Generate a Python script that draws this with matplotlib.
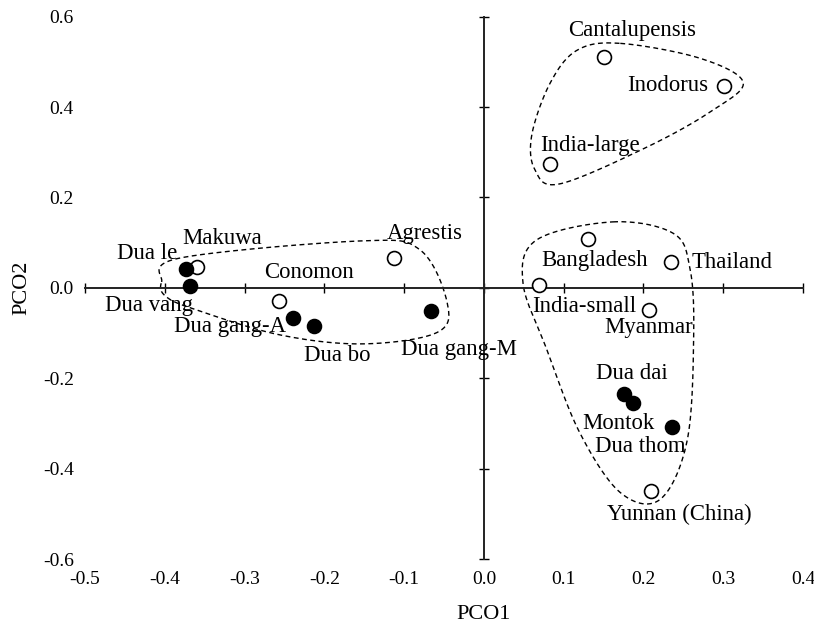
import numpy as np
import matplotlib
matplotlib.use("Agg")
import matplotlib.pyplot as plt

plt.rcParams['font.family'] = ['Liberation Serif', 'DejaVu Serif']
plt.rcParams['axes.unicode_minus'] = False

# accessions and their PCO scores
names = ['Cantalupensis', 'Inodorus', 'India-large', 'Makuwa', 'Dua le', 'Dua vang',
         'Conomon', 'Dua gang-A', 'Dua bo', 'Agrestis', 'Dua gang-M', 'Bangladesh',
         'Thailand', 'India-small', 'Myanmar', 'Dua dai', 'Montok', 'Dua thom',
         'Yunnan (China)']
pco1 = [0.150, 0.301, 0.083, -0.360, -0.374, -0.368, -0.257, -0.239, -0.213, -0.113,
        -0.066, 0.130, 0.234, 0.069, 0.207, 0.176, 0.187, 0.236, 0.210]
pco2 = [0.511, 0.446, 0.274, 0.046, 0.041, 0.004, -0.028, -0.066, -0.084, 0.067,
        -0.051, 0.108, 0.058, 0.007, -0.049, -0.235, -0.255, -0.307, -0.449]
filled = [False, False, False, False, True, True, False, True, True, False,
          True, False, False, False, False, True, True, True, False]

xticks = [-0.5, -0.4, -0.3, -0.2, -0.1, 0.0, 0.1, 0.2, 0.3, 0.4]
yticks = [-0.6, -0.4, -0.2, 0.0, 0.2, 0.4, 0.6]

# label offsets in pixels (layout only)
offsets = {
    'Cantalupensis': (29, 26), 'Inodorus': (-56, 1), 'India-large': (40, 19),
    'Makuwa': (25, 29), 'Dua le': (-38, 16), 'Dua vang': (-41, -19),
    'Conomon': (30, 28), 'Dua gang-A': (-63, -9), 'Dua bo': (23, -30),
    'Agrestis': (31, 24), 'Dua gang-M': (28, -39), 'Bangladesh': (7, -21),
    'Thailand': (61, -1), 'India-small': (45, -22), 'Myanmar': (0, -18),
    'Dua dai': (8, 21), 'Montok': (-15, -20), 'Dua thom': (-32, -20),
    'Yunnan (China)': (28, -24),
}

# outline shapes of the three groups (layout only)
hull_a = [(0.171, 0.541), (0.271, 0.508), (0.325, 0.455), (0.287, 0.393), (0.205, 0.312),
          (0.095, 0.230), (0.064, 0.261), (0.060, 0.338), (0.083, 0.453), (0.117, 0.526)]
hull_b = [(-0.404, 0.013), (-0.381, 0.066), (-0.152, 0.104), (-0.080, 0.084), (-0.046, -0.033),
          (-0.059, -0.099), (-0.152, -0.124), (-0.256, -0.104), (-0.360, -0.049), (-0.398, -0.020)]
hull_c = [(0.162, 0.146), (0.237, 0.121), (0.258, 0.046), (0.263, -0.100), (0.255, -0.336),
          (0.221, -0.468), (0.171, -0.453), (0.120, -0.320), (0.079, -0.137), (0.049, 0.011),
          (0.066, 0.106)]


def closed_spline(pts, n=30):
    p = np.array(pts)
    k = len(p)
    out = []
    for i in range(k):
        p0, p1, p2, p3 = p[i - 1], p[i], p[(i + 1) % k], p[(i + 2) % k]
        t = np.linspace(0, 1, n, endpoint=False)[:, None]
        seg = 0.5 * ((2 * p1) + (-p0 + p2) * t + (2 * p0 - 5 * p1 + 4 * p2 - p3) * t ** 2
                     + (-p0 + 3 * p1 - 3 * p2 + p3) * t ** 3)
        out.append(seg)
    out = np.vstack(out)
    return np.vstack([out, out[:1]])


fig = plt.figure(figsize=(8.14, 6.29), dpi=100)
ax = fig.add_axes([85 / 814, 1 - 559 / 629, 718 / 814, 542.3 / 629])
ax.set_xlim(-0.5, 0.4)
ax.set_ylim(-0.6, 0.6)

for s in ['top', 'right']:
    ax.spines[s].set_visible(False)
ax.spines['left'].set_position(('data', 0))
ax.spines['bottom'].set_position(('data', 0))
for s in ['left', 'bottom']:
    ax.spines[s].set_linewidth(1.4)
    ax.spines[s].set_color('#222222')
ax.set_xticks(xticks)
ax.set_yticks(yticks)
ax.tick_params(direction='inout', length=7, width=1.0, labelbottom=False, labelleft=False)

# tick labels sit on the frame edge, axis titles line up with zero
x0 = (0 - xticks[0]) / (xticks[-1] - xticks[0])
y0 = (0 - yticks[0]) / (yticks[-1] - yticks[0])

secx = ax.secondary_xaxis(0.0)
secx.set_xticks(xticks)
secx.set_xticklabels(['%.1f' % v for v in xticks])
secx.tick_params(length=0, pad=9, labelsize=14)
secx.spines['bottom'].set_visible(False)
secx.set_xlabel('PCO1', fontsize=16, labelpad=12, x=x0)

secy = ax.secondary_yaxis(0.0)
secy.set_yticks(yticks)
secy.set_yticklabels(['%.1f' % v for v in yticks])
secy.tick_params(length=0, pad=8, labelsize=14)
secy.spines['left'].set_visible(False)
secy.set_ylabel('PCO2', fontsize=16, labelpad=8, y=y0)

for h in [hull_a, hull_b, hull_c]:
    c = closed_spline(h)
    ax.plot(c[:, 0], c[:, 1], color='black', lw=1.0, dashes=(3.5, 2.5))

for n, x, y, f in zip(names, pco1, pco2, filled):
    ax.plot(x, y, 'o', ms=10, mew=1.2, mec='black', mfc='black' if f else 'white', zorder=3)
    dx, dy = offsets[n]
    ax.annotate(n, (x, y), xytext=(dx, dy), textcoords='offset pixels',
                ha='center', va='center', fontsize=16.4, zorder=4)

fig.savefig('out.png', dpi=100)
